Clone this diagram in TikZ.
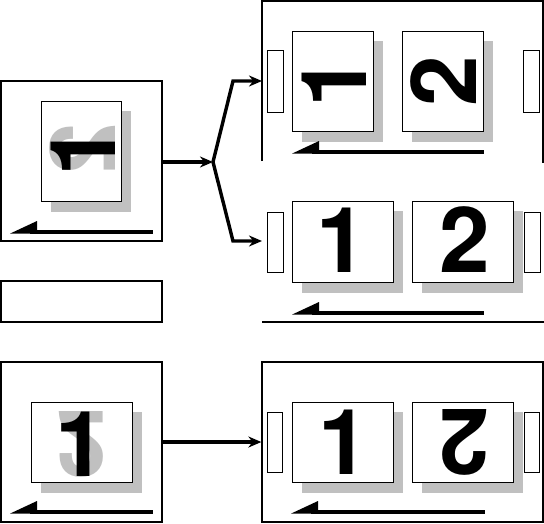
\documentclass[tikz,border=0pt]{standalone}
\usepackage{fontspec}
\setmainfont{TeX Gyre Heros}
\usetikzlibrary{arrows.meta}
\definecolor{shadowgray}{RGB}{192,192,192}
\tikzset{
	panel/.style={draw, line width=1.3pt, inner sep=0pt},
	sheet/.style={draw, line width=0.8pt, fill=white},
	margin/.style={draw, line width=0.7pt, fill=white},
	digit/.style={font=\fontsize{91}{91}\selectfont\bfseries, inner sep=0pt},
	ghost/.style={digit, text=shadowgray},
	pagelink/.style={line width=3.4pt, -{Stealth[length=13pt, width=11pt]}},
}

\begin{document}
\begin{tikzpicture}[>=Stealth, x=1pt, y=-1pt] % coordinates are in pixels, y downwards
	\useasboundingbox (0,0) rectangle (544,523);

	% Macro for a sheet with its drop shadow.
	% Usage: \drawsheet{left}{top}{right}{bottom}
	\newcommand{\drawsheet}[4]{
		\fill[shadowgray] (#1+10,#2+10) rectangle (#3+10,#4+11);
		\draw[sheet] (#1,#2) rectangle (#3,#4);
	}

	% Macro for the direction arrow under the sheets.
	% Usage: \drawdir{left}{right}{y}
	\newcommand{\drawdir}[3]{
		\draw[line width=3.3pt] (#1+20,#3) -- (#2,#3);
		\fill (#1,#3+1.6) -- (#1+27,#3-11) -- (#1+27,#3+1.6) -- cycle;
	}

	% Input panels on the left
	\node[panel, minimum width=161pt, minimum height=160pt] (inA) at (81.5,161) {};
	\node[panel, minimum width=161pt, minimum height=41pt] (note) at (81.5,301.5) {};
	\node[panel, minimum width=161pt, minimum height=160pt] (inB) at (81.5,442) {};

	% Output panels on the right
	\draw[line width=1.3pt] (262,161) -- (262,1) -- (543,1) -- (543,163);
	\draw[line width=1.3pt] (262,322) -- (544,322);
	\node[panel, minimum width=281pt, minimum height=160pt] (outB) at (402.5,442) {};

	% Top left: portrait sheet, page 1 over page 2 seen through
	\drawsheet{41}{101}{121}{201}
	\node[ghost, cm={0,-1,-1,0,(0,0)}] (backA) at (83,149) {2};
	\node[digit, rotate=90] (frontA) at (83,151) {1};
	\drawdir{10}{153}{232}

	% Top right: two portrait pages
	\draw[margin] (267,50) rectangle (283,112);
	\draw[margin] (523,50) rectangle (539,112);
	\drawsheet{292}{31}{373}{131}
	\drawsheet{402}{31}{483}{131}
	\node[digit, rotate=90] (upOne) at (334,82) {1};
	\node[digit, rotate=90] (upTwo) at (444,81) {2};
	\drawdir{292}{484}{152}

	% Middle right: two landscape pages
	\draw[margin] (267,212) rectangle (283,272);
	\draw[margin] (524,212) rectangle (540,272);
	\drawsheet{292}{201}{393}{282}
	\drawsheet{412}{201}{513}{282}
	\node[digit] (midOne) at (342,240) {1};
	\node[digit] (midTwo) at (465,240) {2};
	\drawdir{292}{484}{313}

	% Bottom left: landscape sheet
	\drawsheet{31}{402}{132}{482}
	\node[ghost, yscale=-1] (backB) at (82,444) {2};
	\node[digit] (frontB) at (81,444) {1};
	\drawdir{10}{153}{512}

	% Bottom right: second page turned round
	\draw[margin] (267,412) rectangle (282,472);
	\draw[margin] (524,412) rectangle (539,472);
	\drawsheet{292}{402}{393}{482}
	\drawsheet{412}{402}{513}{482}
	\node[digit] (lowOne) at (344,442) {1};
	\node[digit, rotate=180] (lowTwo) at (464,442) {2};
	\drawdir{291}{485}{512}

	% Connectors
	\coordinate (split) at (213,162);
	\coordinate (upIn) at (262,81);
	\coordinate (midIn) at (262,241);
	\draw[pagelink] (inA.east |- split) -- (split);
	\draw[pagelink] (split) -- (233,81) -- (upIn);
	\draw[pagelink] (split) -- (233,241) -- (midIn);
	\draw[pagelink] (inB.east) -- (outB.west);
\end{tikzpicture}
\end{document}
